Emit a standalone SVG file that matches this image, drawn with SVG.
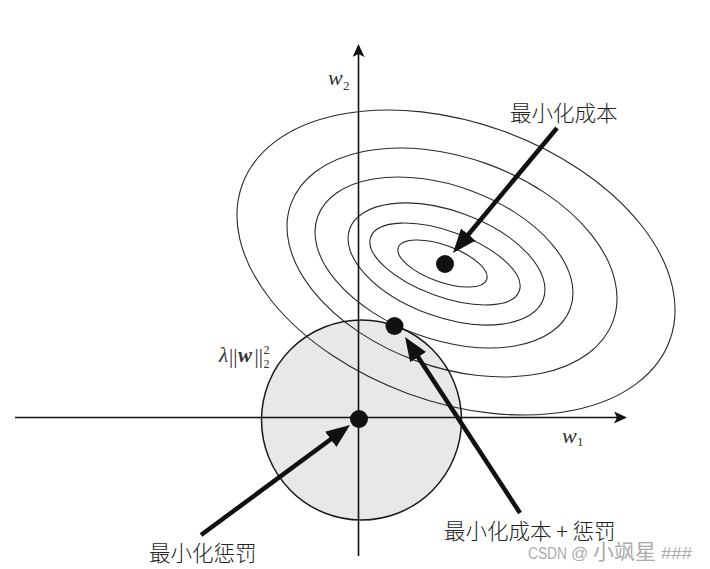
<svg xmlns="http://www.w3.org/2000/svg" width="710" height="569" viewBox="0 0 710 569">
<style>
.ell{fill:none;stroke:#2a2a2a;stroke-width:1.1}
.axis{fill:none;stroke:#111;stroke-width:1.6}
.arr{fill:none;stroke:#111;stroke-width:4.5}
.dot{fill:#111}
.cn{font-family:"Noto Sans CJK SC","Noto Sans",sans-serif;font-size:21.5px;font-weight:300;fill:#222}
.math{font-family:"Liberation Serif","DejaVu Serif",serif;fill:#333}
.wm{font-family:"Liberation Sans","Noto Sans CJK SC",sans-serif;font-size:17px;fill:#ababab}
</style>
<defs>
<marker id="axhead" markerUnits="userSpaceOnUse" markerWidth="14" markerHeight="12" refX="11" refY="6" orient="auto">
<path d="M0,0 L13,6 L0,12 L3,6 z" fill="#111"/>
</marker>
<marker id="bighead" markerUnits="userSpaceOnUse" markerWidth="26" markerHeight="20" refX="14" refY="9.5" orient="auto">
<path d="M0,0 L24,9.5 L0,19 z" fill="#111"/>
</marker>
</defs>
<rect width="710" height="569" fill="#fff"/>
<g id="penalty-region">
<circle cx="361.5" cy="420" r="100" fill="#e8e8e8" stroke="none"/>
</g>
<g id="cost-contours">
<ellipse class="ell" cx="442.5" cy="263.5" rx="47" ry="18.3" transform="rotate(20 442.5 263.5)"/>
<ellipse class="ell" cx="445" cy="264" rx="79" ry="32.8" transform="rotate(20 445 264)"/>
<ellipse class="ell" cx="446.5" cy="264" rx="103" ry="53" transform="rotate(20 446.5 264)"/>
<ellipse class="ell" cx="444" cy="262.5" rx="134.4" ry="76.7" transform="rotate(20 444 262.5)"/>
<ellipse class="ell" cx="452" cy="262.5" rx="171.4" ry="104.7" transform="rotate(20 452 262.5)"/>
<ellipse class="ell" cx="456" cy="262.5" rx="227.5" ry="139.6" transform="rotate(20 456 262.5)"/>
</g>
<g id="penalty-outline">
<circle cx="361.5" cy="420" r="100" fill="none" stroke="#1a1a1a" stroke-width="1.5"/>
</g>
<g id="axes">
<line class="axis" x1="358.5" y1="556" x2="358.5" y2="46" marker-end="url(#axhead)"/>
<line class="axis" x1="15" y1="417.5" x2="625" y2="417.5" marker-end="url(#axhead)"/>
<text class="math" x="328" y="85" font-size="22" font-style="italic">w</text>
<text class="math" x="343" y="90" font-size="13">2</text>
<text class="math" x="562" y="443" font-size="22" font-style="italic">w</text>
<text class="math" x="577" y="446" font-size="13">1</text>
</g>
<g id="penalty-label">
<text class="math" x="219" y="362" font-size="21" font-style="italic">λ</text>
<text class="math" x="229" y="363" font-size="21">||</text>
<text class="math" x="238" y="362" font-size="21" font-style="italic" font-weight="bold">w</text>
<text class="math" x="254.5" y="363" font-size="21">||</text>
<text class="math" x="263.5" y="354" font-size="12">2</text>
<text class="math" x="263.5" y="368" font-size="12">2</text>
</g>
<g id="connectors">
<line class="arr" x1="557" y1="128" x2="459.4" y2="245.3" marker-end="url(#bighead)"/>
<line class="arr" x1="520" y1="513" x2="410.5" y2="345.4" marker-end="url(#bighead)"/>
<line class="arr" x1="201" y1="535" x2="342" y2="431" marker-end="url(#bighead)"/>
</g>
<g id="min-cost">
<circle class="dot" cx="445" cy="264" r="9"/>
<text class="cn" x="510" y="121">最小化成本</text>
</g>
<g id="min-cost-penalty">
<circle class="dot" cx="394.5" cy="326" r="9"/>
<text class="cn" x="444" y="539">最小化成本 + 惩罚</text>
</g>
<g id="min-penalty">
<circle class="dot" cx="359" cy="419" r="9"/>
<text class="cn" x="149" y="561">最小化惩罚</text>
</g>
<text class="wm" y="559"><tspan x="528" textLength="39" lengthAdjust="spacingAndGlyphs">CSDN</tspan><tspan x="571">@</tspan><tspan x="593" font-size="21">小飒星</tspan><tspan x="661" textLength="31" lengthAdjust="spacingAndGlyphs">###</tspan></text>
</svg>
